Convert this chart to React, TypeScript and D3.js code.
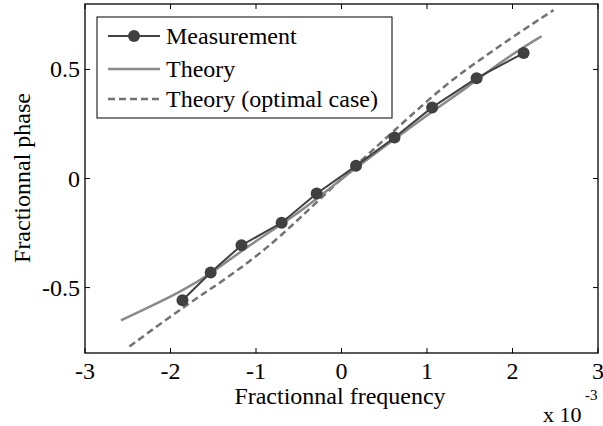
import React from "react";
import * as d3 from "d3";

const measX = [-1.86, -1.53, -1.17, -0.7, -0.29, 0.17, 0.62, 1.06, 1.58, 2.13];
const measY = [-0.558, -0.431, -0.306, -0.203, -0.069, 0.058, 0.188, 0.326, 0.46, 0.575];

const theoryX = [-2.58, -2.28, -1.89, -1.5, -1.07, -0.49, 0, 0.62, 1.07, 1.46, 1.85, 2.12, 2.34];
const theoryY = [-0.65, -0.595, -0.522, -0.43, -0.302, -0.158, 0, 0.18, 0.31, 0.415, 0.53, 0.6, 0.652];

const optX = [-2.48, -2.0, -1.65, -1.26, -0.87, -0.52, 0, 0.45, 0.8, 1.27, 1.66, 2.05, 2.48];
const optY = [-0.77, -0.632, -0.537, -0.435, -0.318, -0.195, 0.0, 0.16, 0.285, 0.448, 0.555, 0.662, 0.772];

const xTicks = [-3, -2, -1, 0, 1, 2, 3];
const yTicks = [-0.5, 0, 0.5];
const yTickLabels = ["-0.5", "0", "0.5"];
const legendLabels = ["Measurement", "Theory", "Theory (optimal case)"];

const W = 603, H = 426;
const L = 85, R = 598, T = 4, B = 353;
const FONT = "Liberation Serif, DejaVu Serif, serif";

export default function App() {
  const x = d3.scaleLinear().domain([-3, 3]).range([L, R]);
  const y = d3.scaleLinear().domain([-0.8, 0.8]).range([B, T]);
  const line = d3.line<[number, number]>().x(d => x(d[0])).y(d => y(d[1]));
  const smooth = d3.line<[number, number]>().x(d => x(d[0])).y(d => y(d[1])).curve(d3.curveBasis);
  const meas = measX.map((v, i) => [v, measY[i]] as [number, number]);
  const theo = theoryX.map((v, i) => [v, theoryY[i]] as [number, number]);
  const opt = optX.map((v, i) => [v, optY[i]] as [number, number]);
  const measColor = "#404040";
  const theoColor = "#8a8a8a";
  const optColor = "#727272";
  const tl = 5;
  const ts = { fontFamily: FONT };
  return (
    <svg width={W} height={H} style={{ position: "absolute", left: 0, top: 0, background: "#fff", fontFamily: FONT }}>
      <rect x={0} y={0} width={W} height={H} fill="#fff" />
      <defs>
        <clipPath id="clip"><rect x={L} y={T} width={R - L} height={B - T} /></clipPath>
      </defs>
      <g clipPath="url(#clip)">
        <path d={smooth(opt) || ""} fill="none" stroke={optColor} strokeWidth={2.5} strokeDasharray="7,4" />
        <path d={smooth(theo) || ""} fill="none" stroke={theoColor} strokeWidth={2.5} />
        <path d={line(meas) || ""} fill="none" stroke={measColor} strokeWidth={2} />
        {meas.map((d, i) => (
          <circle key={i} cx={x(d[0])} cy={y(d[1])} r={6} fill={measColor} />
        ))}
      </g>
      <rect x={L} y={T} width={R - L} height={B - T} fill="none" stroke="#000" strokeWidth={1.3} />
      {xTicks.map((t, i) => (
        <g key={"xt" + i}>
          <line x1={x(t)} x2={x(t)} y1={B} y2={B - tl} stroke="#000" strokeWidth={1} />
          <line x1={x(t)} x2={x(t)} y1={T} y2={T + tl} stroke="#000" strokeWidth={1} />
          <text x={x(t)} y={379} textAnchor="middle" fontSize={24} fill="#000" style={ts}>{t}</text>
        </g>
      ))}
      {yTicks.map((t, i) => (
        <g key={"yt" + i}>
          <line x1={L} x2={L + tl} y1={y(t)} y2={y(t)} stroke="#000" strokeWidth={1} />
          <line x1={R} x2={R - tl} y1={y(t)} y2={y(t)} stroke="#000" strokeWidth={1} />
          <text x={80} y={y(t) + 8} textAnchor="end" fontSize={24} fill="#000" style={ts}>{yTickLabels[i]}</text>
        </g>
      ))}
      <text x={340} y={404} textAnchor="middle" fontSize={24} fill="#000" style={ts}>Fractionnal frequency</text>
      <text x={543} y={422} fontSize={22} fill="#000" style={ts}>x 10</text>
      <text x={585} y={400} fontSize={15} fill="#000" style={ts}>-3</text>
      <text transform={`translate(30,178) rotate(-90)`} textAnchor="middle" fontSize={24} fill="#000" style={ts}>Fractionnal phase</text>
      <g>
        <rect x={97} y={17} width={295} height={101} fill="#fff" stroke="#000" strokeWidth={1} />
        {legendLabels.map((lab, i) => {
          const cy = [36, 69, 99][i];
          return (
            <g key={"lg" + i}>
              {i === 0 && <line x1={108} x2={160} y1={cy} y2={cy} stroke={measColor} strokeWidth={2} />}
              {i === 0 && <circle cx={134} cy={cy} r={6} fill={measColor} />}
              {i === 1 && <line x1={108} x2={160} y1={cy} y2={cy} stroke={theoColor} strokeWidth={2.5} />}
              {i === 2 && <line x1={108} x2={160} y1={cy} y2={cy} stroke={optColor} strokeWidth={2.5} strokeDasharray="7,4" />}
              <text x={166} y={cy + 8} fontSize={24} fill="#000" style={ts}>{lab}</text>
            </g>
          );
        })}
      </g>
    </svg>
  );
}
